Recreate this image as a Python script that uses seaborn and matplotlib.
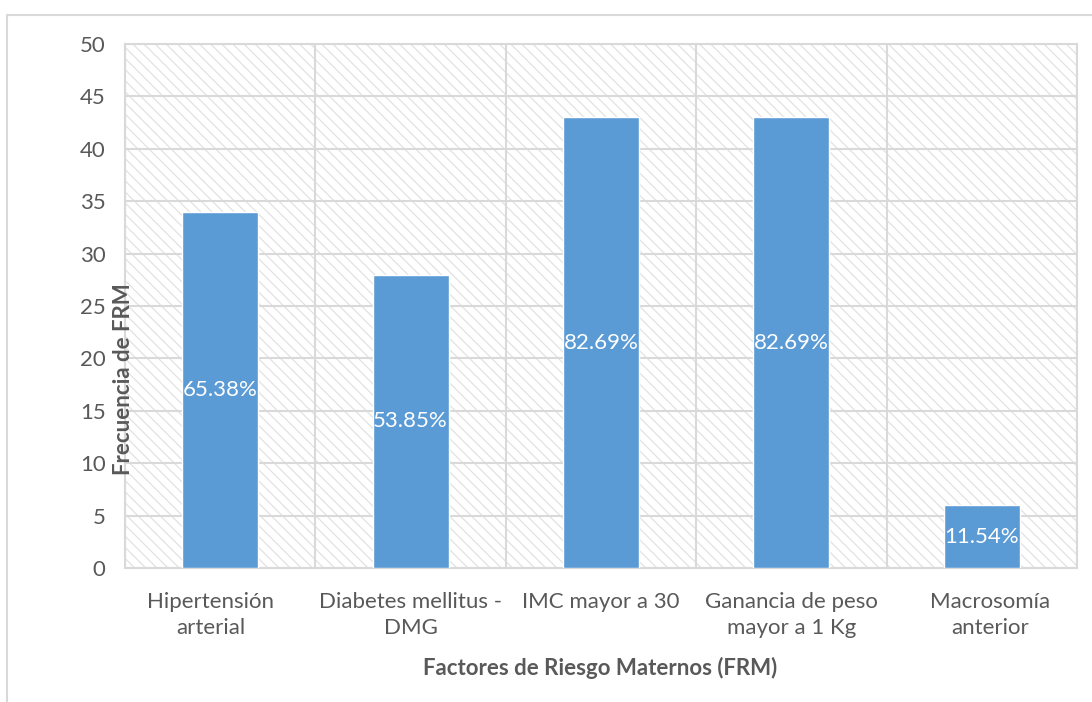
import matplotlib
matplotlib.use("Agg")
import matplotlib.pyplot as plt
import matplotlib.transforms as mtransforms
from matplotlib.patches import Rectangle
import seaborn as sns
import pandas as pd

# Maternal risk factors and their frequencies
categories = [
    "Hipertensión\narterial",
    "Diabetes mellitus -\nDMG",
    "IMC mayor a 30",
    "Ganancia de peso\nmayor a 1 Kg",
    "Macrosomía\nanterior",
]
frequencies = [34, 28, 43, 43, 6]
percent_labels = ["65.38%", "53.85%", "82.69%", "82.69%", "11.54%"]
y_ticks = [0, 5, 10, 15, 20, 25, 30, 35, 40, 45, 50]

sns.set_theme(style="white")
plt.rcParams["font.family"] = ["Lato", "DejaVu Sans"]
plt.rcParams["hatch.color"] = "#e2e2e2"
plt.rcParams["hatch.linewidth"] = 0.9

TEXT = "#595959"
GRID = "#d9d9d9"
BAR = "#5b9bd5"
FS = 16

df = pd.DataFrame({"factor": categories, "freq": frequencies})

fig = plt.figure(figsize=(10.92, 7.02), dpi=100)
fig.patch.set_facecolor("white")

# light outer frame of the chart area
fig.patches.append(Rectangle((7 / 1092, -0.05), 1.1, 1 - 15 / 702 + 0.05,
                             transform=fig.transFigure, fill=False,
                             edgecolor=GRID, linewidth=1.5, zorder=0))

ax = fig.add_axes([125 / 1092, 1 - 568 / 702, (1077 - 125) / 1092, (568 - 44) / 702])
ax.set_facecolor("white")

# hatched plot-area background
ax.add_patch(Rectangle((0, 0), 1, 1, transform=ax.transAxes, facecolor="white",
                       edgecolor="#e2e2e2", hatch="\\\\\\", linewidth=0, zorder=0))

sns.barplot(data=df, x="factor", y="freq", color=BAR, width=0.4,
            saturation=1, ax=ax, zorder=3)

ax.set_ylim(0, 50)
ax.set_xlim(-0.5, len(categories) - 0.5)
ax.set_yticks(y_ticks)
ax.set_yticklabels([str(v) for v in y_ticks])

# category boundaries as vertical gridlines
ax.set_xticks([i + 0.5 for i in range(-1, len(categories))], minor=True)
ax.grid(True, which="minor", axis="x", color=GRID, linewidth=1.5, zorder=1)
ax.grid(True, which="major", axis="y", color=GRID, linewidth=1.5, zorder=1)
ax.set_axisbelow(True)

ax.tick_params(axis="both", which="both", length=0)
ax.tick_params(axis="y", labelsize=FS, labelcolor=TEXT, pad=14)
ax.tick_params(axis="x", labelsize=FS, labelcolor=TEXT, pad=17)

# small horizontal nudges for the wrapped category labels (in points)
label_nudge = [-7, 0, 0, 0, 6]
for lbl, dx in zip(ax.get_xticklabels(), label_nudge):
    lbl.set_linespacing(1.4)
    lbl.set_verticalalignment("top")
    lbl.set_transform(lbl.get_transform() +
                      mtransforms.ScaledTranslation(dx / 72, 0, fig.dpi_scale_trans))

for s in ax.spines.values():
    s.set_color(GRID)
    s.set_linewidth(1.5)

ax.set_xlabel("")
ax.set_ylabel("")

# percentage labels centred within each bar
for i, (v, txt) in enumerate(zip(frequencies, percent_labels)):
    ax.text(i, v / 2, txt, ha="center", va="center", color="white",
            fontsize=FS, zorder=5)

fig.text(600 / 1092, 1 - 668 / 702, "Factores de Riesgo Maternos (FRM)",
         ha="center", va="center", fontsize=FS, fontweight="bold", color=TEXT)
fig.text(123 / 1092, 1 - 379 / 702, "Frecuencia de FRM", rotation=90,
         ha="center", va="center", fontsize=FS, fontweight="bold", color=TEXT)

fig.savefig("out.png", dpi=100)
